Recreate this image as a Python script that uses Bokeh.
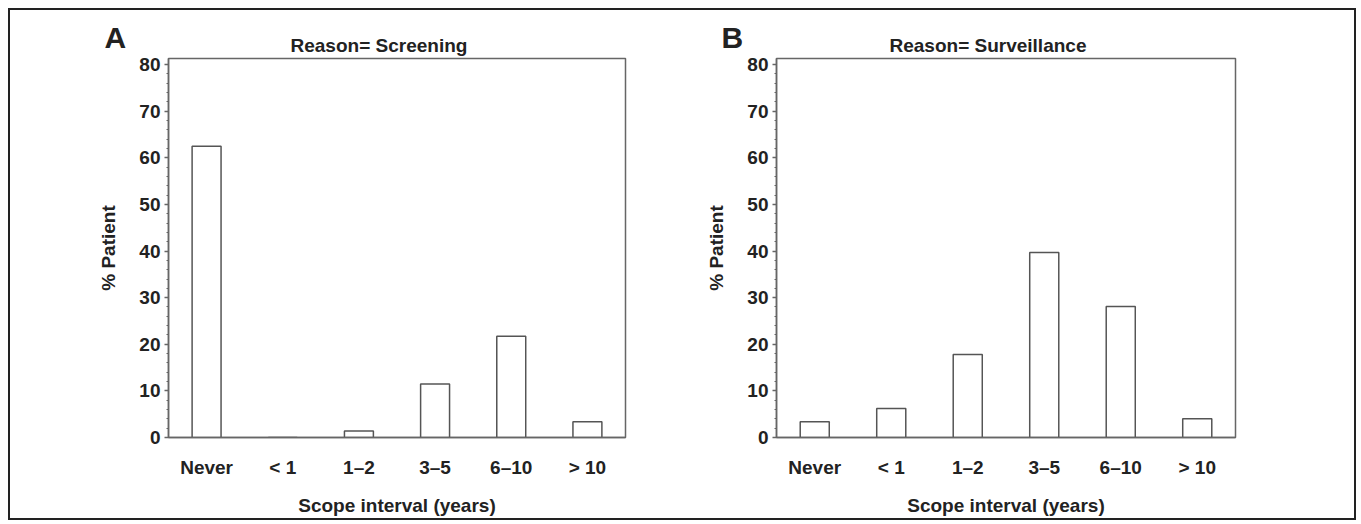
from bokeh.plotting import figure
from bokeh.models import FactorRange, Range1d, SingleIntervalTicker, Title
from bokeh.layouts import row
from bokeh.embed import file_html
from bokeh.resources import INLINE

categories = ["Never", "< 1", "1\u20132", "3\u20135", "6\u201310", "> 10"]
screening = [62.5, 0.0, 1.4, 11.5, 21.7, 3.4]
surveillance = [3.4, 6.2, 17.8, 39.7, 28.1, 4.0]
titles = ["Reason= Screening", "Reason= Surveillance"]
letters = ["A", "B"]

FONT = "Liberation Sans"
TXT = "#222222"
AX = "#666666"
FS = "19px"


def make_panel(values, title, letter, bl, fw, br, letter_off, title_off):
    p = figure(x_range=FactorRange(*categories), y_range=Range1d(0, 81.3),
               frame_width=fw, frame_height=379,
               min_border_left=bl, min_border_right=br,
               min_border_top=48, min_border_bottom=78,
               title=None,
               output_backend="svg", toolbar_location=None, tools="")
    p.vbar(x=categories, top=values, width=0.38, fill_color="white",
           line_color="#555555", line_width=1.5)
    p.xgrid.visible = False
    p.ygrid.visible = False
    p.outline_line_color = AX
    p.outline_line_width = 1.5
    p.outline_line_alpha = 1
    p.background_fill_color = "white"
    p.border_fill_color = "white"

    for ax in (p.xaxis[0], p.yaxis[0]):
        ax.axis_line_color = AX
        ax.axis_line_width = 1.5
        ax.major_label_text_font = FONT
        ax.major_label_text_font_style = "bold"
        ax.major_label_text_font_size = FS
        ax.major_label_text_color = TXT
        ax.axis_label_text_font = FONT
        ax.axis_label_text_font_style = "bold"
        ax.axis_label_text_font_size = FS
        ax.axis_label_text_color = TXT

    xa = p.xaxis[0]
    xa.major_tick_line_color = None
    xa.minor_tick_line_color = None
    xa.major_label_standoff = 13
    xa.axis_label = "Scope interval (years)"
    xa.axis_label_standoff = 14

    ya = p.yaxis[0]
    ya.ticker = SingleIntervalTicker(interval=10, num_minor_ticks=5)
    ya.major_tick_out = 4
    ya.major_tick_in = 0
    ya.minor_tick_out = 2
    ya.minor_tick_in = 0
    ya.major_tick_line_color = AX
    ya.minor_tick_line_color = AX
    ya.major_tick_line_width = 1.5
    ya.minor_tick_line_width = 1
    ya.major_label_standoff = 4
    ya.axis_label = "% Patient"
    ya.axis_label_standoff = 17

    t_main = Title(text=title, align="left", offset=title_off, standoff=5,
                   text_font=FONT, text_font_style="bold",
                   text_font_size=FS, text_color=TXT)
    p.add_layout(t_main, "above")
    t_letter = Title(text=letter, align="left", offset=letter_off,
                     text_font=FONT, text_font_style="bold",
                     text_font_size="30px", text_color=TXT)
    try:
        t_letter.standoff = -46
    except Exception:
        t_letter.standoff = 0
    p.add_layout(t_letter, "above")
    return p


pA = make_panel(screening, titles[0], letters[0], 158, 457, 56, -64, 122)
pB = make_panel(surveillance, titles[1], letters[1], 95, 459, 119, -55, 113)

layout = row(pA, pB, styles={"border": "2px solid #222222"}, margin=(8, 0, 0, 8))

open("out.html", "w").write(file_html(layout, INLINE))
